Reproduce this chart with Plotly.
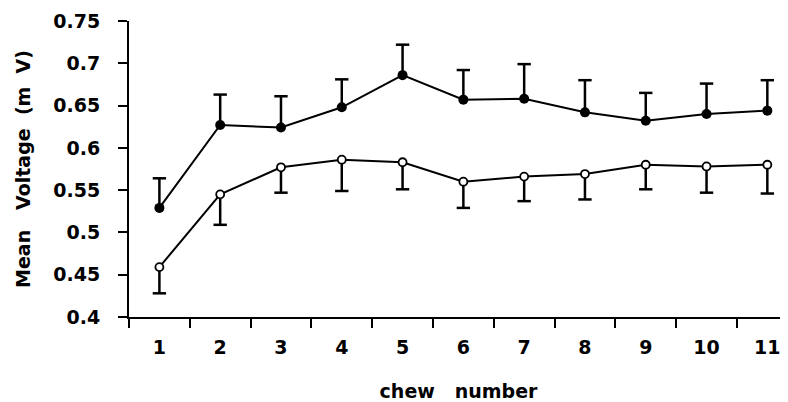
import plotly.graph_objects as go

chew = [1, 2, 3, 4, 5, 6, 7, 8, 9, 10, 11]
filled_mean = [0.529, 0.627, 0.624, 0.648, 0.686, 0.657, 0.658, 0.642, 0.632, 0.640, 0.644]
filled_err = [0.035, 0.036, 0.037, 0.033, 0.036, 0.035, 0.041, 0.038, 0.033, 0.036, 0.036]
open_mean = [0.459, 0.545, 0.577, 0.586, 0.583, 0.560, 0.566, 0.569, 0.580, 0.578, 0.580]
open_err = [0.031, 0.036, 0.030, 0.037, 0.032, 0.031, 0.029, 0.030, 0.029, 0.031, 0.034]
y_ticks = [0.4, 0.45, 0.5, 0.55, 0.6, 0.65, 0.7, 0.75]
y_labels = ["0.4", "0.45", "0.5", "0.55", "0.6", "0.65", "0.7", "0.75"]

CAP = 0.22  # cap full width in x data units (style)
FONT = dict(family="DejaVu Sans, sans-serif", size=19, color="black", weight="bold")

# the page body has an 8px margin; size the figure so the plot lands where the reference has it
PAGE_OFFSET = 8


def err_segments(xs, means, errs, sign):
    sx, sy, cx, cy = [], [], [], []
    for x, m, e in zip(xs, means, errs):
        end = m + sign * e
        sx += [x, x, None]
        sy += [m, end, None]
        cx += [x - CAP / 2, x + CAP / 2, None]
        cy += [end, end, None]
    return sx, sy, cx, cy


fig = go.Figure()

for means, errs, sign in [(filled_mean, filled_err, 1), (open_mean, open_err, -1)]:
    sx, sy, cx, cy = err_segments(chew, means, errs, sign)
    fig.add_trace(go.Scatter(x=sx, y=sy, mode="lines", line=dict(color="black", width=2.5),
                             hoverinfo="skip", showlegend=False))
    fig.add_trace(go.Scatter(x=cx, y=cy, mode="lines", line=dict(color="black", width=2.5),
                             hoverinfo="skip", showlegend=False))

fig.add_trace(go.Scatter(x=chew, y=filled_mean, mode="lines+markers",
                         line=dict(color="black", width=2),
                         marker=dict(symbol="circle", size=10, color="black"),
                         showlegend=False))
fig.add_trace(go.Scatter(x=chew, y=open_mean, mode="lines+markers",
                         line=dict(color="black", width=2),
                         marker=dict(symbol="circle", size=8, color="white",
                                     line=dict(color="black", width=1.8)),
                         showlegend=False))

fig.update_layout(
    width=788 - PAGE_OFFSET, height=402 - PAGE_OFFSET,
    margin=dict(l=129 - PAGE_OFFSET, r=0, t=21 - PAGE_OFFSET, b=85, autoexpand=False),
    paper_bgcolor="white", plot_bgcolor="white",
    font=FONT,
)
fig.update_xaxes(
    range=[0.5, 11.34], tickvals=chew, ticktext=[str(c) for c in chew],
    ticks="", showgrid=False, zeroline=False, automargin=False,
    showline=True, linecolor="black", linewidth=2,
    tickfont=FONT, ticklabelstandoff=12,
    minor=dict(tick0=0.5, dtick=1, ticks="outside", ticklen=9, tickwidth=2,
               tickcolor="black", showgrid=False),
    title=dict(text="chew\u00a0\u00a0\u00a0number", font=FONT, standoff=28),
)
fig.update_yaxes(
    range=[0.4, 0.75], tickvals=y_ticks, ticktext=y_labels,
    ticks="outside", ticklen=9, tickwidth=2, tickcolor="black",
    showgrid=False, zeroline=False, automargin=False,
    showline=True, linecolor="black", linewidth=2,
    tickfont=FONT, ticklabelstandoff=14,
    title=dict(text="Mean\u00a0\u00a0\u00a0Voltage\u00a0\u00a0(m\u00a0\u00a0V)", font=FONT, standoff=18),
)

fig.write_html("out.html")
